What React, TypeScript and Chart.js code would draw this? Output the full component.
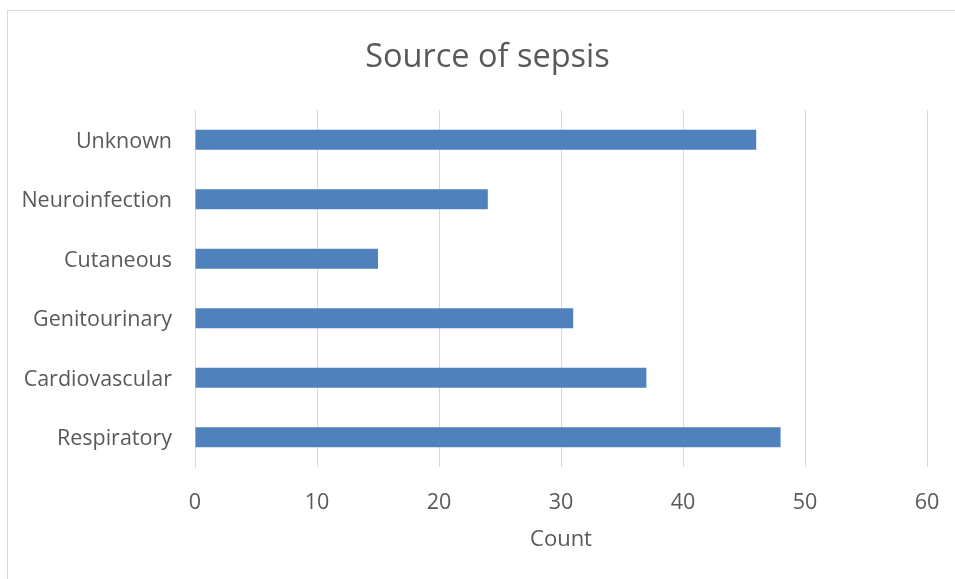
import React, { useEffect, useRef } from "react";
import { Chart, registerables } from "chart.js";

Chart.register(...registerables);

const categories = ["Unknown", "Neuroinfection", "Cutaneous", "Genitourinary", "Cardiovascular", "Respiratory"];
const counts = [46, 24, 15, 31, 37, 48];
const xTicks = [0, 10, 20, 30, 40, 50, 60];

const FONT = "'Open Sans', 'Noto Sans', sans-serif";
const TEXT = "#595959";
const GRID = "#d9d9d9";
const BAR = "#4f81bd";

// The chart frame is a little wider than the visible window; its right edge is clipped.
const CANVAS_W = 975;
const CANVAS_H = 579;

export default function App() {
  const ref = useRef<HTMLCanvasElement | null>(null);

  useEffect(() => {
    if (!ref.current) return;
    const chart = new Chart(ref.current, {
      type: "bar",
      data: {
        labels: categories,
        datasets: [
          {
            label: "Count",
            data: counts,
            backgroundColor: BAR,
            borderWidth: 0,
            barPercentage: 0.335,
            categoryPercentage: 1,
          },
        ],
      },
      options: {
        indexAxis: "y",
        animation: false,
        responsive: false,
        maintainAspectRatio: false,
        layout: { padding: { top: 10, right: 0, bottom: 0, left: 0 } },
        plugins: {
          legend: { display: false },
          tooltip: { enabled: false },
          title: {
            display: true,
            text: "Source of sepsis",
            color: TEXT,
            font: { family: FONT, size: 32.5, weight: "normal" },
            padding: { top: 28, bottom: 33 },
          },
        },
        scales: {
          x: {
            min: 0,
            max: 60,
            afterBuildTicks: (scale: any) => {
              scale.ticks = xTicks.map((v) => ({ value: v }));
            },
            grid: { color: GRID, lineWidth: 1, drawTicks: false },
            border: { display: false },
            ticks: {
              color: TEXT,
              font: { family: FONT, size: 21.5 },
              padding: 23,
            },
            title: {
              display: true,
              text: "Count",
              color: TEXT,
              font: { family: FONT, size: 22 },
              padding: { top: 8, bottom: 26 },
            },
            afterFit: (scale: any) => {
              scale.height = 112;
            },
          },
          y: {
            grid: { display: false, drawTicks: false },
            border: { display: true, color: GRID, width: 1 },
            ticks: {
              color: TEXT,
              font: { family: FONT, size: 21.5 },
              padding: 23,
              labelOffset: 2,
            },
            afterFit: (scale: any) => {
              scale.width = 195;
            },
          },
          // empty right-hand margin inside the chart frame
          spacer: {
            type: "linear",
            position: "right",
            display: true,
            grid: { display: false, drawTicks: false },
            border: { display: false },
            ticks: { display: false },
            afterFit: (scale: any) => {
              scale.width = CANVAS_W - 927;
            },
          },
        },
      },
    });
    return () => chart.destroy();
  }, []);

  return (
    <div style={{ position: "fixed", left: 0, top: 0, width: 955, height: 579, background: "#fff", overflow: "hidden" }}>
      <canvas
        ref={ref}
        width={CANVAS_W}
        height={CANVAS_H}
        style={{ position: "absolute", left: 0, top: 0, width: CANVAS_W, height: CANVAS_H }}
      />
      <div
        style={{
          position: "absolute",
          left: 7,
          top: 10,
          width: 960,
          height: 600,
          border: `1px solid ${GRID}`,
          pointerEvents: "none",
        }}
      />
    </div>
  );
}
